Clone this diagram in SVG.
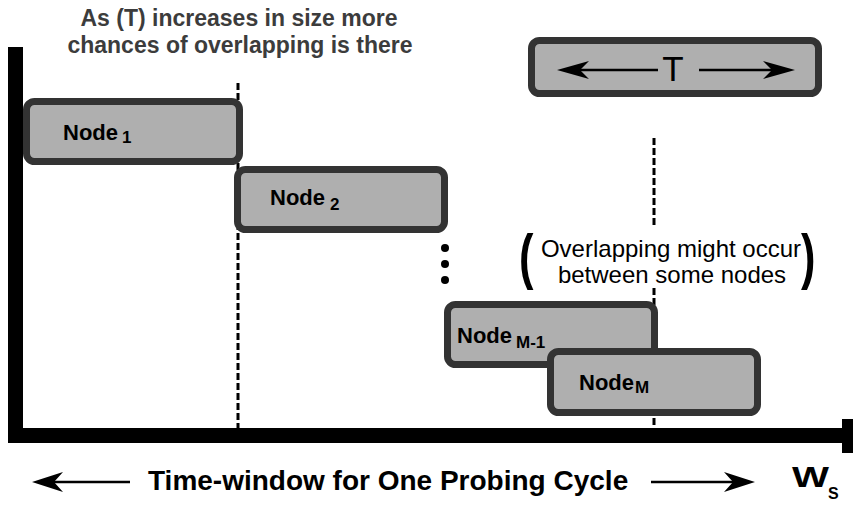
<svg xmlns="http://www.w3.org/2000/svg" width="862" height="505" viewBox="0 0 862 505">
<style>
.box{fill:#afafaf;stroke:#333333;stroke-width:7}
.lbl{font-family:"Liberation Sans",Arial,sans-serif;font-weight:bold;font-size:22px;fill:#000}
.sub{font-family:"Liberation Sans",Arial,sans-serif;font-weight:bold;font-size:17px;fill:#000}
.dash{stroke:#000;stroke-width:3;stroke-dasharray:7 3;fill:none}
.arr{stroke:#000;stroke-width:2.5;fill:none}
.head{fill:#000}
.note{font-family:"Liberation Sans",Arial,sans-serif;font-size:24px;fill:#000}
.par{font-family:"Liberation Sans",Arial,sans-serif;font-weight:bold;font-size:62px;fill:#000}
</style>
<rect width="862" height="505" fill="#fff"/>
<g id="title">
<text x="239" y="26" text-anchor="middle" font-family="'Liberation Sans',Arial,sans-serif" font-weight="bold" font-size="23" fill="#3c3c3c">As (T) increases in size more</text>
<text x="240" y="53" text-anchor="middle" font-family="'Liberation Sans',Arial,sans-serif" font-weight="bold" font-size="23" fill="#3c3c3c">chances of overlapping is there</text>
</g>
<g id="connectors">
<line class="dash" x1="238" y1="83" x2="238" y2="428"/>
<line class="dash" x1="654" y1="138" x2="654" y2="225"/>
<line class="dash" x1="654" y1="288" x2="654" y2="428"/>
</g>
<g id="axes">
<rect x="8" y="47" width="15" height="396" fill="#000"/>
<rect x="8" y="428" width="836" height="15" fill="#000"/>
<rect x="842" y="419" width="11" height="34" fill="#000"/>
</g>
<g id="node1">
<rect class="box" x="26.5" y="101.5" width="213" height="60" rx="8"/>
<text class="lbl" x="63" y="140">Node</text><text class="sub" x="122" y="143">1</text>
</g>
<g id="node2">
<rect class="box" x="237.5" y="169.5" width="207" height="60" rx="8"/>
<text class="lbl" x="270" y="205">Node</text><text class="sub" x="330" y="210">2</text>
</g>
<g id="dots">
<circle cx="445" cy="248" r="4"/>
<circle cx="445" cy="264" r="4"/>
<circle cx="445" cy="280" r="4"/>
</g>
<g id="nodeM1">
<rect class="box" x="447.5" y="304.5" width="207" height="60" rx="8"/>
<text class="lbl" x="457" y="343">Node</text><text class="sub" x="516" y="348">M-1</text>
</g>
<g id="nodeM">
<rect class="box" x="550.5" y="351.5" width="207" height="61" rx="8"/>
<text class="lbl" x="579" y="390">Node</text><text class="sub" x="635" y="393">M</text>
</g>
<g id="tbox">
<rect class="box" x="531.5" y="40.5" width="287" height="53" rx="8"/>
<line class="arr" x1="575" y1="70" x2="658" y2="70"/>
<path class="head" d="M557,70 L589,61 L580,70 L589,79 Z"/>
<line class="arr" x1="699" y1="70" x2="778" y2="70"/>
<path class="head" d="M795,70 L763,61 L772,70 L763,79 Z"/>
<text x="673" y="81" text-anchor="middle" font-family="'Liberation Sans',Arial,sans-serif" font-size="35" fill="#000">T</text>
</g>
<g id="note">
<text class="note" x="671" y="257" text-anchor="middle">Overlapping might occur</text>
<text class="note" x="672" y="283" text-anchor="middle">between some nodes</text>
<text class="par" transform="translate(519,277) scale(0.7,1)">(</text>
<text class="par" transform="translate(801,277) scale(0.7,1)">)</text>
</g>
<g id="xlabel">
<line class="arr" x1="50" y1="482" x2="130" y2="482"/>
<path class="head" d="M32,482 L63,472 L54,482 L63,492 Z"/>
<text x="148" y="490" font-family="'Liberation Sans',Arial,sans-serif" font-weight="bold" font-size="28" fill="#000">Time-window for One Probing Cycle</text>
<line class="arr" x1="651" y1="482" x2="738" y2="482"/>
<path class="head" d="M755,482 L724,472 L733,482 L724,492 Z"/>
<text x="792" y="487" font-family="'Liberation Sans',Arial,sans-serif" font-weight="bold" font-size="30" textLength="37" lengthAdjust="spacingAndGlyphs" fill="#000">W</text>
<text x="828" y="499" font-family="'Liberation Sans',Arial,sans-serif" font-weight="bold" font-size="16" fill="#000">S</text>
</g>
</svg>
